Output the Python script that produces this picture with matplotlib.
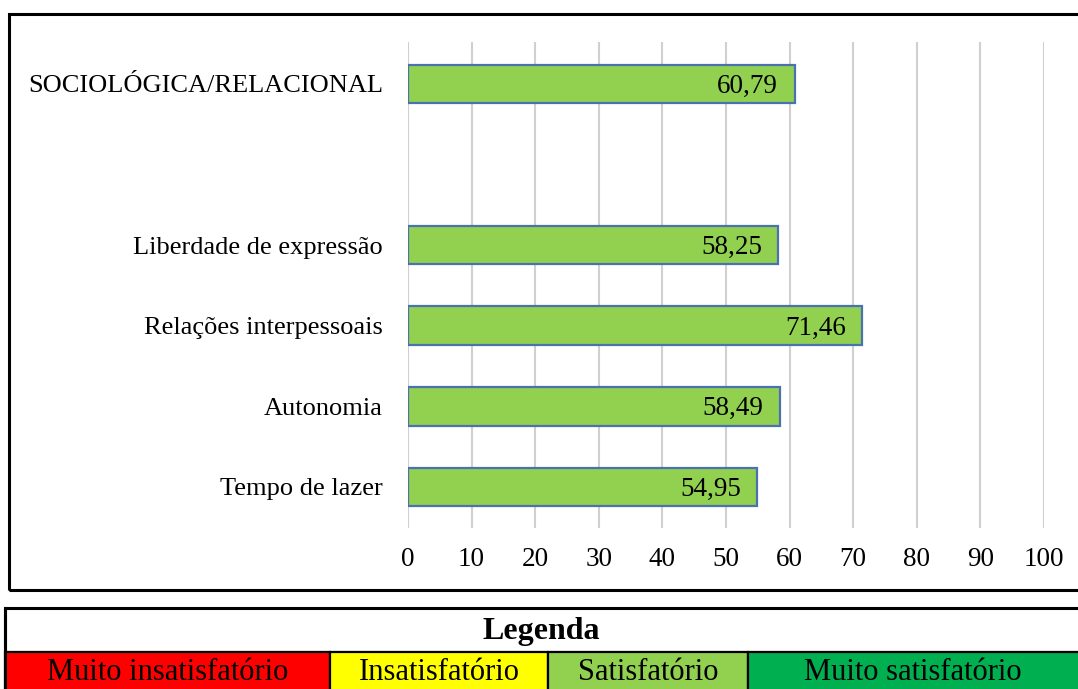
import matplotlib

matplotlib.use("Agg")
import matplotlib.pyplot as plt
from matplotlib.patches import Rectangle

plt.rcParams["font.family"] = ["Liberation Serif", "DejaVu Serif"]

CATEGORIES = ["Tempo de lazer", "Autonomia", "Relações interpessoais",
              "Liberdade de expressão", "", "SOCIOLÓGICA/RELACIONAL"]
VALUES = [54.95, 58.49, 71.46, 58.25, None, 60.79]
XTICKS = list(range(0, 101, 10))

LEGEND_TITLE = "Legenda"
LEGEND_LABELS = ["Muito insatisfatório", "Insatisfatório", "Satisfatório", "Muito satisfatório"]
LEGEND_COLORS = ["#FF0000", "#FFFF00", "#92D050", "#00B050"]
LEGEND_EDGES = [5, 330, 548, 748, 1080]  # pixel x boundaries of the cells

W, H = 1078, 689
fig = plt.figure(figsize=(W / 100, H / 100), dpi=100)


def px(x0, y0, x1, y1):
    """Figure-fraction rect from pixel box (top-left origin)."""
    return [x0 / W, 1 - y1 / H, (x1 - x0) / W, (y1 - y0) / H]


# outer frame of the chart
fig.patches.append(Rectangle((9 / W, 1 - 590 / H), 1.1, (590 - 14) / H,
                             transform=fig.transFigure, fill=False,
                             edgecolor="black", lw=2.2))

ax = fig.add_axes(px(408, 42, 1044, 528))
ys = [i for i, v in enumerate(VALUES) if v is not None]
vals = [VALUES[i] for i in ys]
ax.barh(ys, vals, height=0.48, color="#92D050", edgecolor="#4A72B0", lw=1.6, zorder=3)
for y, v in zip(ys, vals):
    ax.text(v - 2.6, y - 0.03, f"{v:.2f}".replace(".", ","), ha="right", va="center",
            fontsize=19.5, zorder=4)
ax.set_xlim(0, 100)
ax.set_ylim(-0.51, 5.52)
ax.set_xticks(XTICKS)
ax.set_xticklabels([str(t) for t in XTICKS], fontsize=19.5)
ax.set_yticks(range(len(CATEGORIES)))
ax.set_yticklabels(CATEGORIES, fontsize=19)
ax.tick_params(axis="x", length=0, pad=14)
ax.tick_params(axis="y", length=0, pad=18)
ax.grid(True, axis="x", color="#D0D0D0", lw=1.5, zorder=0)
for s in ax.spines.values():
    s.set_visible(False)

# legend table
lg = fig.add_axes([0, 0, 1, 1])
lg.set_xlim(0, W)
lg.set_ylim(H, 0)
lg.axis("off")
lg.add_patch(Rectangle((5, 608), W, 44, facecolor="white", edgecolor="black", lw=2.2))
lg.text((5 + W) / 2, 631, LEGEND_TITLE, ha="center", va="center",
        fontsize=23, fontweight="bold")
for i, (lab, col) in enumerate(zip(LEGEND_LABELS, LEGEND_COLORS)):
    x0, x1 = LEGEND_EDGES[i], LEGEND_EDGES[i + 1]
    lg.add_patch(Rectangle((x0, 652), x1 - x0, 50, facecolor=col,
                           edgecolor="black", lw=1.6))
    lg.text((x0 + min(x1, 1078)) / 2, 673, lab, ha="center", va="center", fontsize=22)
lg.plot([5, 5], [608, 689], color="black", lw=2.2)

fig.savefig("out.png", dpi=100)
